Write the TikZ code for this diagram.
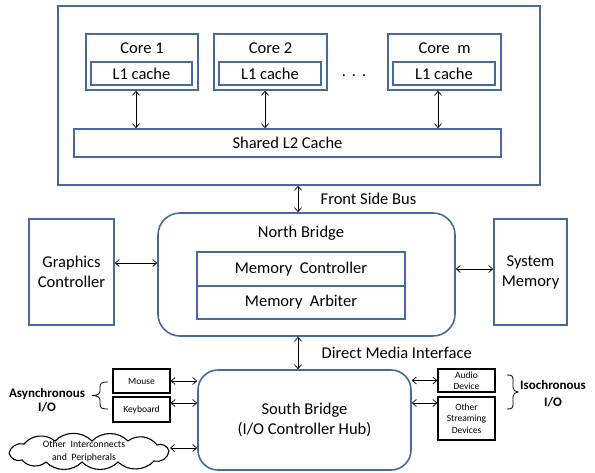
\documentclass[tikz,border=0pt]{standalone}
\usepackage{fontspec}
\setmainfont{Carlito}
\usetikzlibrary{arrows.meta}
\definecolor{edgeblue}{RGB}{70,106,158}
\begin{document}
\begin{tikzpicture}[x=1pt, y=-1pt,
  bluebox/.style={draw=edgeblue, line width=1.6pt, inner sep=0pt, align=center, font=\fontsize{16.5}{20}\selectfont},
  iobox/.style={draw, line width=1.3pt, inner sep=0pt, align=center, font=\fontsize{9.5}{11.5}\selectfont},
  link/.style={{Straight Barb[length=4pt,width=7pt]}-{Straight Barb[length=4pt,width=7pt]}, line width=0.7pt},
  big/.style={font=\fontsize{16.5}{20}\selectfont}]

\useasboundingbox (0,0) rectangle (595,472);

\node(cpu)[bluebox, minimum width=482pt, minimum height=179pt] at (299, 95.5) {};

\node(core1)[bluebox, minimum width=112pt, minimum height=56pt] at (142, 62) {};
\node(core2)[bluebox, minimum width=113pt, minimum height=56pt] at (270.5, 62) {};
\node(corem)[bluebox, minimum width=113pt, minimum height=56pt] at (444.5, 62) {};
\node(text1)[big] at (142, 48) {Core 1};
\node(text2)[big] at (270.5, 48) {Core 2};
\node(textm)[big] at (444.5, 48) {Core\ \ m};
\node(lone1)[bluebox, minimum width=101pt, minimum height=23pt] at (141.5, 73.5) {L1 cache};
\node(lone2)[bluebox, minimum width=102pt, minimum height=23pt] at (270, 73.5) {L1 cache};
\node(lonem)[bluebox, minimum width=102pt, minimum height=23pt] at (444, 73.5) {L1 cache};
\node(dots)[big] at (354, 76) {.\hspace{6pt}.\hspace{6pt}.};
\node(ltwo)[bluebox, minimum width=427pt, minimum height=28pt] at (287.5, 143) {Shared L2 Cache};

\draw[link] ([xshift=-6pt]core1.south) -- ([xshift=-6pt]core1.south |- ltwo.north);
\draw[link] ([xshift=-5.5pt]core2.south) -- ([xshift=-5.5pt]core2.south |- ltwo.north);
\draw[link] ([xshift=-6.5pt]corem.south) -- ([xshift=-6.5pt]corem.south |- ltwo.north);

\node(nb)[bluebox, rounded corners=22pt, minimum width=297pt, minimum height=123pt] at (306.5, 274.5) {};
\node(nbtext)[big] at (301, 233) {North Bridge};
\node(memc)[bluebox, minimum width=208pt, minimum height=34pt] at (301, 269) {Memory\ \ Controller};
\node(mema)[bluebox, minimum width=208pt, minimum height=33pt] at (301, 302.5) {Memory\ \ Arbiter};
\node(gc)[bluebox, minimum width=85pt, minimum height=106pt] at (71.5, 272) {Graphics\\Controller};
\node(sm)[bluebox, minimum width=73pt, minimum height=106pt] at (530.5, 272) {System\\Memory};

\draw[link] ([xshift=-1pt]cpu.south) -- ([xshift=-1pt]cpu.south |- nb.north)
    node[midway, right=19pt, big]{Front Side Bus};
\draw[link] ([yshift=9pt]gc.east) -- ([yshift=9pt]gc.east -| nb.west);
\draw[link] ([yshift=3pt]sm.west) -- ([yshift=3pt]sm.west -| nb.east);

\node(sb)[bluebox, rounded corners=20pt, minimum width=213pt, minimum height=100pt] at (304.5, 420) {South Bridge\\(I/O Controller Hub)};
\draw[link] ([xshift=-8.5pt]nb.south) -- ([xshift=-8.5pt]nb.south |- sb.north)
    node[midway, right=20pt, big]{Direct Media Interface};

\node(mouse)[iobox, minimum width=57pt, minimum height=24pt] at (141.5, 381) {Mouse};
\node(kbd)[iobox, minimum width=57pt, minimum height=25pt] at (141.5, 409.5) {Keyboard};
\node(audio)[iobox, minimum width=57pt, minimum height=23pt] at (466.5, 380.5) {Audio\\Device};
\node(stream)[iobox, minimum width=57pt, minimum height=43pt] at (466.5, 418.5) {Other\\Streaming\\Devices};

\draw[line width=1.1pt] (9,453) to[bend left=45] (24,444) to[bend left=45] (55,441)
    to[bend left=45] (92,441) to[bend left=45] (128,441) to[bend left=45] (157,445)
    to[bend left=50] (169,451) to[bend left=50] (154,461) to[bend left=45] (118,462)
    to[bend left=45] (82,462) to[bend left=45] (46,462) to[bend left=45] (22,460)
    to[bend left=50] (9,453);
\node(cloud)[align=center, font=\fontsize{9.8}{13}\selectfont] at (84, 451) {Other\ \ Interconnects\\and\ \ Peripherals};
\coordinate(cloudend) at (170, 448);

\draw[link] (mouse.east) -- (mouse.east -| sb.west);
\draw[link] ([yshift=6.5pt]kbd.east) -- ([yshift=6.5pt]kbd.east -| sb.west);
\draw[link] (cloudend) -- (cloudend -| sb.west);
\draw[link] (audio.west) -- (audio.west -| sb.east);
\draw[link] ([yshift=15.5pt]stream.west) -- ([yshift=15.5pt]stream.west -| sb.east);

\node(async)[align=center, font=\bfseries\fontsize{13}{14}\selectfont] at (47, 400) {Asynchronous\\I/O};
\node(isoc)[align=center, font=\bfseries\fontsize{13}{17}\selectfont] at (553, 394) {Isochronous\\I/O};

\draw[line width=0.8pt] (108,382) .. controls (101,382) and (100,383) .. (100,388) -- (100,391)
    .. controls (100,394) and (97,395.5) .. (92,395.5) .. controls (97,395.5) and (100,397) .. (100,400)
    -- (100,403) .. controls (100,408) and (101,409) .. (108,409);
\draw[line width=0.8pt] (507,375) .. controls (512,375) and (513,376) .. (513,380) -- (513,387)
    .. controls (513,390) and (515,392) .. (518,392) .. controls (515,392) and (513,394) .. (513,397)
    -- (513,404) .. controls (513,408) and (512,409) .. (507,409);
\end{tikzpicture}
\end{document}
